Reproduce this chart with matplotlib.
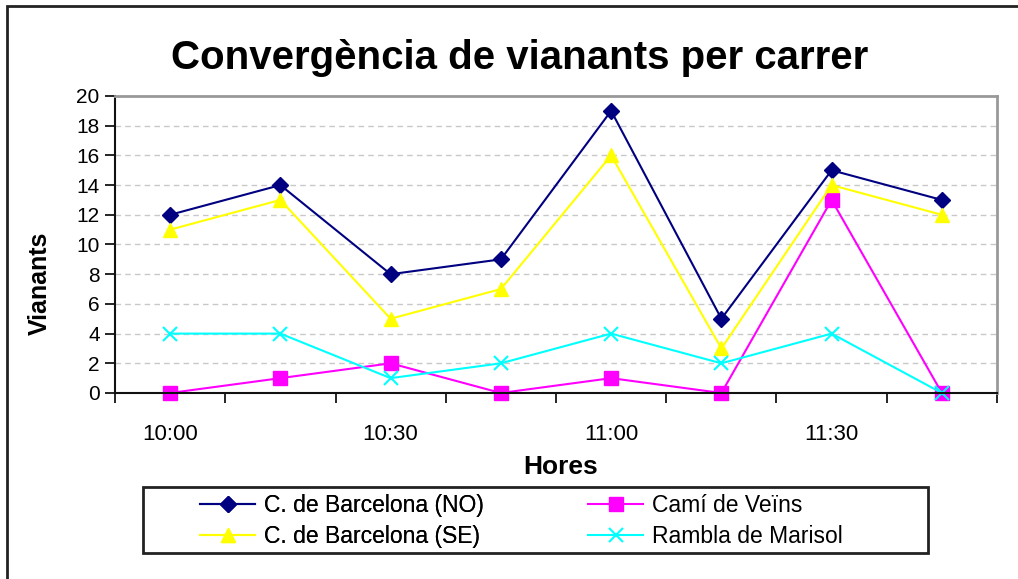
import matplotlib
matplotlib.use("Agg")
import matplotlib.pyplot as plt
from matplotlib.patches import Rectangle
from matplotlib.ticker import FixedLocator

plt.rcParams['font.family'] = ['Liberation Sans', 'DejaVu Sans']

# data
hores = ["10:00", "10:15", "10:30", "10:45", "11:00", "11:15", "11:30", "11:45"]
barcelona_no = [12, 14, 8, 9, 19, 5, 15, 13]
cami_veins = [0, 1, 2, 0, 1, 0, 13, 0]
barcelona_se = [11, 13, 5, 7, 16, 3, 14, 12]
rambla_marisol = [4, 4, 1, 2, 4, 2, 4, 0]
y_ticks = list(range(0, 21, 2))

W, H = 1018, 579
fig = plt.figure(figsize=(W / 100, H / 100), dpi=100)

# outer chart border (left + top visible)
fig.add_artist(Rectangle((7 / W, -0.1), 1.2, 1.1 - 6 / H, transform=fig.transFigure,
                         fill=False, edgecolor='#222222', linewidth=2))

ax = fig.add_axes([115 / W, (H - 393) / H, (997 - 115) / W, (393 - 96) / H])
x = list(range(len(hores)))

l1, = ax.plot(x, barcelona_no, color='#000080', marker='D', markersize=8, lw=1.5,
              label='C. de Barcelona (NO)', clip_on=False)
l2, = ax.plot(x, cami_veins, color='#FF00FF', marker='s', markersize=10, lw=1.5,
              label='Camí de Veïns', clip_on=False)
l3, = ax.plot(x, barcelona_se, color='#FFFF00', marker='^', markersize=10, lw=1.5,
              label='C. de Barcelona (SE)', clip_on=False)
l4, = ax.plot(x, rambla_marisol, color='#00FFFF', marker='x', markersize=10, mew=1.5, lw=1.5,
              label='Rambla de Marisol', clip_on=False)

ax.set_xlim(-0.5, len(hores) - 0.5)
ax.set_ylim(0, 20)
ax.set_yticks(y_ticks)
ax.set_xticks(x[::2])
ax.set_xticklabels(hores[::2])
ax.xaxis.set_minor_locator(FixedLocator([i - 0.5 for i in range(len(hores) + 1)]))
ax.tick_params(axis='x', which='major', length=0, pad=22, labelsize=16)
ax.tick_params(axis='x', which='minor', length=7, width=1.2, direction='out')
ax.tick_params(axis='y', length=7, width=1.2, direction='out', labelsize=15, pad=4)

for v in y_ticks[1:-1]:
    ax.axhline(v, color='#c8c8c8', lw=1, ls=(0, (4, 3)), zorder=0)

for s in ['left', 'bottom']:
    ax.spines[s].set_color('#111111')
    ax.spines[s].set_linewidth(1.5)
for s in ['top', 'right']:
    ax.spines[s].set_color('#999999')
    ax.spines[s].set_linewidth(2)

fig.text(561 / W, 1 - 467 / H, 'Hores', ha='center', va='center', fontsize=19, fontweight='bold')
fig.text(40 / W, 1 - 283 / H, 'Vianants', ha='center', va='center', rotation=90,
         fontsize=18, fontweight='bold')
fig.text(520 / W, 1 - 58 / H, 'Convergència de vianants per carrer', ha='center', va='center',
         fontsize=29, fontweight='bold')

# legend box and its two columns
fig.add_artist(Rectangle((143 / W, (H - 553) / H), (928 - 143) / W, 66 / H,
                         transform=fig.transFigure, fill=False, edgecolor='#222222', linewidth=2))
leg_kw = dict(loc='upper left', fontsize=16.5, frameon=False, handlelength=2.4,
              handletextpad=0.4, borderpad=0, borderaxespad=0, labelspacing=0.35)
leg1 = fig.legend(handles=[l1, l3], bbox_to_anchor=(200 / W, 1 - 494 / H), **leg_kw)
fig.add_artist(leg1)
fig.legend(handles=[l2, l4], bbox_to_anchor=(588 / W, 1 - 494 / H), **leg_kw)

fig.savefig('out.png', dpi=100)
